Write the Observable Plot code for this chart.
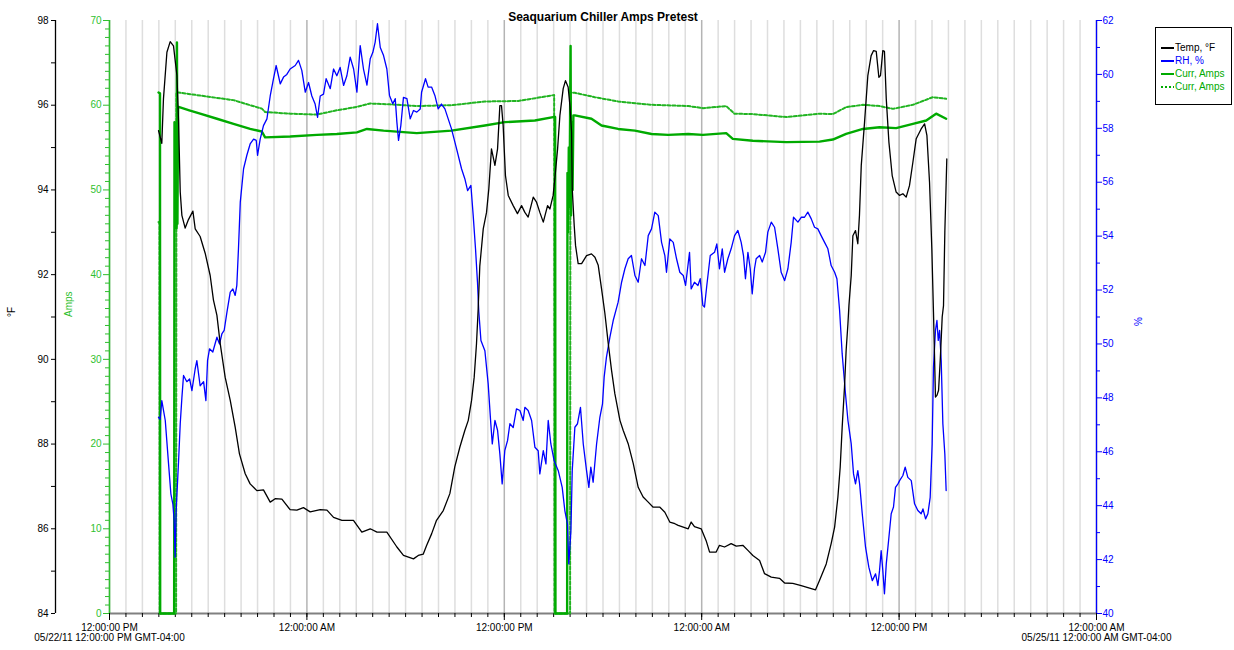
<!DOCTYPE html>
<html><head><meta charset="utf-8">
<script src="https://cdn.jsdelivr.net/npm/d3@7"></script>
<script src="https://cdn.jsdelivr.net/npm/@observablehq/plot@0.6"></script>
<style>
body{margin:0;background:#fff;font-family:"Liberation Sans",Arial,sans-serif}
#wrap{position:relative;width:1234px;height:650px;overflow:hidden}
#legend{position:absolute;left:1155px;top:27px;width:77px;height:78px;border:1px solid #000;background:#fff;font-size:10px;box-sizing:border-box}
#legend .row{position:absolute;left:5px;height:12px;line-height:12px;white-space:nowrap}
#legend svg{vertical-align:middle;margin-right:1px}
</style></head><body><div id="wrap"></div><script>
const title = "Seaquarium Chiller Amps Pretest";
const startLabel = "05/22/11 12:00:00 PM GMT-04:00";
const endLabel = "05/25/11 12:00:00 AM GMT-04:00";
const legendLabels = ["Temp, \u00b0F", "RH, %", "Curr, Amps", "Curr, Amps"];
const axisLabels = ["\u00b0F", "Amps", "%"];
// time = hours after 05/22/11 12:00 PM
const temp = [[2.98,95.4],[3.18,95.1],[3.28,96.15],[3.49,97.25],[3.69,97.5],[3.89,97.4],[4.10,96.7],[4.20,95.6],[4.30,93.95],[4.40,93.4],[4.60,93.1],[4.80,93.3],[5.07,93.5],[5.21,93.08],[5.51,92.9],[5.82,92.5],[6.12,91.98],[6.32,91.4],[6.53,91.04],[6.73,90.37],[7.03,89.58],[7.34,89.03],[7.64,88.4],[7.9,87.77],[8.25,87.3],[8.55,87.06],[8.96,86.9],[9.36,86.92],[9.77,86.63],[10.07,86.71],[10.48,86.7],[10.98,86.45],[11.39,86.44],[11.79,86.5],[12.2,86.4],[12.81,86.45],[13.22,86.44],[13.62,86.27],[14.13,86.2],[14.83,86.2],[15.34,85.92],[15.85,86.0],[16.26,85.92],[16.86,85.92],[17.47,85.57],[17.87,85.37],[18.48,85.29],[18.77,85.37],[19.07,85.4],[19.27,85.6],[19.58,85.88],[19.88,86.2],[20.29,86.43],[20.69,86.83],[20.99,87.46],[21.3,87.93],[21.6,88.32],[21.81,88.56],[22.01,89.03],[22.17,89.58],[22.31,90.37],[22.41,91.17],[22.51,92.2],[22.72,93.08],[22.92,93.47],[23.06,94.03],[23.22,94.97],[23.43,94.58],[23.59,94.97],[23.73,95.99],[23.83,95.99],[23.93,95.52],[24.07,94.34],[24.24,93.87],[24.54,93.63],[24.8,93.44],[25.05,93.63],[25.25,93.47],[25.45,93.36],[25.76,93.83],[25.96,93.71],[26.16,93.47],[26.37,93.24],[26.63,93.63],[26.77,93.55],[26.97,93.87],[27.07,94.26],[27.24,94.97],[27.38,95.76],[27.58,96.39],[27.72,96.58],[27.88,96.43],[27.99,95.99],[28.09,95.36],[28.13,94.03],[28.25,93.16],[28.33,92.69],[28.49,92.26],[28.7,92.26],[29.0,92.45],[29.3,92.49],[29.51,92.41],[29.71,92.22],[29.91,91.67],[30.11,91.1],[30.32,90.37],[30.52,89.74],[30.72,89.19],[31.03,88.56],[31.23,88.32],[31.53,88.01],[31.84,87.54],[32.14,86.98],[32.44,86.75],[32.75,86.63],[33.05,86.51],[33.46,86.51],[33.76,86.39],[34.06,86.16],[34.37,86.12],[34.57,86.08],[34.88,86.04],[35.18,86.0],[35.36,86.16],[35.56,86.05],[35.97,86.0],[36.27,85.72],[36.48,85.45],[36.88,85.45],[37.08,85.61],[37.39,85.57],[37.79,85.65],[38.1,85.59],[38.5,85.61],[38.81,85.49],[39.11,85.37],[39.52,85.25],[39.82,84.94],[40.23,84.86],[40.73,84.83],[41.04,84.72],[41.54,84.71],[42.05,84.66],[42.56,84.6],[42.92,84.56],[43.16,84.78],[43.57,85.17],[43.87,85.65],[44.08,86.04],[44.28,86.75],[44.42,87.46],[44.54,88.4],[44.68,89.34],[44.78,90.21],[44.89,90.84],[44.95,91.27],[45.09,91.98],[45.19,92.92],[45.35,93.04],[45.49,92.73],[45.59,93.4],[45.70,94.58],[45.9,95.6],[46.1,96.7],[46.3,97.17],[46.45,97.29],[46.61,97.27],[46.77,96.66],[46.87,96.7],[47.01,97.29],[47.11,97.27],[47.22,96.15],[47.38,95.13],[47.58,94.34],[47.82,93.95],[48.03,93.87],[48.23,93.91],[48.43,93.83],[48.63,94.1],[48.84,94.66],[49.04,95.21],[49.34,95.44],[49.55,95.56],[49.69,95.29],[49.85,94.18],[49.99,92.61],[50.09,91.11],[50.15,90.13],[50.21,89.11],[50.30,89.15],[50.40,89.27],[50.50,89.97],[50.62,91.0],[50.70,91.27],[50.78,93.0],[50.90,94.73]];
const rh = [[2.98,47.28],[3.08,47.2],[3.18,47.9],[3.39,47.16],[3.59,45.55],[3.73,44.44],[3.85,44.07],[3.93,43.45],[3.99,42.09],[4.05,43.8],[4.20,45.67],[4.30,47.04],[4.40,48.0],[4.50,48.83],[4.70,48.6],[4.87,48.7],[5.01,48.27],[5.21,49.08],[5.31,49.38],[5.51,48.45],[5.72,48.6],[5.86,47.9],[5.96,49.38],[6.08,49.82],[6.28,49.7],[6.53,50.25],[6.69,50.0],[6.83,50.37],[6.97,50.5],[7.14,51.18],[7.34,51.92],[7.5,52.04],[7.64,51.8],[7.74,52.17],[7.84,53.53],[7.95,55.26],[8.15,56.5],[8.35,57.0],[8.55,57.42],[8.76,57.6],[8.92,57.55],[9.0,57.0],[9.16,57.6],[9.36,58.1],[9.57,58.35],[9.77,59.2],[9.97,59.84],[10.13,60.33],[10.27,59.95],[10.38,59.65],[10.58,59.9],[10.78,60.0],[10.98,60.2],[11.29,60.33],[11.49,60.52],[11.69,60.15],[11.9,59.34],[12.1,59.7],[12.3,59.2],[12.5,58.9],[12.65,58.41],[12.81,59.2],[13.01,59.27],[13.17,59.84],[13.42,59.47],[13.62,60.2],[13.82,59.95],[14.02,60.26],[14.23,59.59],[14.43,59.95],[14.63,60.64],[14.84,60.2],[15.04,59.34],[15.24,61.07],[15.44,60.2],[15.65,59.6],[15.85,60.58],[16.01,60.82],[16.15,61.2],[16.29,61.88],[16.46,61.0],[16.66,60.7],[16.86,60.2],[17.02,59.22],[17.22,58.91],[17.37,59.1],[17.47,58.23],[17.57,57.55],[17.71,58.1],[17.87,59.15],[18.08,59.1],[18.28,58.35],[18.48,58.66],[18.68,58.6],[18.89,58.72],[18.97,59.34],[19.21,59.84],[19.37,59.53],[19.58,59.53],[19.78,59.22],[19.98,58.72],[20.18,58.9],[20.39,58.72],[20.59,58.35],[20.79,57.98],[21.1,57.24],[21.4,56.5],[21.6,56.13],[21.77,55.69],[21.97,55.88],[22.11,54.76],[22.25,53.53],[22.37,52.29],[22.45,51.2],[22.58,50.13],[22.82,49.75],[23.02,48.52],[23.18,47.04],[23.27,46.29],[23.43,47.16],[23.59,46.8],[23.73,45.92],[23.87,44.81],[24.03,46.04],[24.2,46.42],[24.34,47.04],[24.54,46.9],[24.74,47.59],[24.95,47.53],[25.15,47.16],[25.25,47.65],[25.45,47.53],[25.66,47.16],[25.86,46.17],[26.06,46.04],[26.16,45.18],[26.37,46.04],[26.53,45.55],[26.67,47.16],[26.83,46.29],[27.03,45.67],[27.28,45.3],[27.52,44.68],[27.68,43.82],[27.84,43.32],[27.92,41.84],[28.05,43.07],[28.13,45.3],[28.29,46.91],[28.45,47.04],[28.63,47.65],[28.8,46.29],[29.0,45.3],[29.14,44.68],[29.26,45.43],[29.4,44.87],[29.61,46.29],[29.81,47.28],[29.97,47.78],[30.07,48.77],[30.21,49.51],[30.42,50.25],[30.62,50.87],[30.92,51.55],[31.13,52.29],[31.33,52.79],[31.53,53.16],[31.73,53.28],[31.94,52.54],[32.14,52.29],[32.34,53.16],[32.55,52.91],[32.75,54.02],[32.95,54.27],[33.15,54.89],[33.36,54.76],[33.56,53.77],[33.76,53.28],[33.86,52.66],[34.06,53.9],[34.27,53.77],[34.47,53.16],[34.67,52.66],[34.88,52.54],[35.02,52.17],[35.26,53.4],[35.36,52.04],[35.56,52.29],[35.77,52.17],[35.91,52.42],[36.07,51.43],[36.17,51.37],[36.31,52.17],[36.52,53.28],[36.78,53.4],[36.92,53.71],[37.08,52.79],[37.25,53.53],[37.39,52.66],[37.59,53.16],[37.79,53.53],[38.0,54.02],[38.2,54.21],[38.40,53.77],[38.54,53.28],[38.66,52.42],[38.81,53.4],[38.95,52.79],[39.07,51.86],[39.21,52.79],[39.31,53.16],[39.52,53.28],[39.68,53.04],[39.88,53.4],[40.02,54.15],[40.23,54.52],[40.43,54.33],[40.63,53.53],[40.83,52.66],[41.04,52.35],[41.24,52.79],[41.44,53.77],[41.58,54.7],[41.85,54.52],[42.05,54.7],[42.25,54.7],[42.45,54.89],[42.66,54.64],[42.86,54.33],[43.06,54.27],[43.26,54.02],[43.47,53.77],[43.67,53.53],[43.87,52.91],[44.08,52.66],[44.22,52.42],[44.38,51.27],[44.54,49.63],[44.74,48.15],[44.89,47.16],[45.09,46.29],[45.23,45.18],[45.35,44.81],[45.49,45.3],[45.6,44.81],[45.76,43.7],[45.96,42.46],[46.16,41.72],[46.37,41.22],[46.57,41.47],[46.71,41.04],[46.81,41.59],[46.91,42.33],[47.01,41.59],[47.11,40.73],[47.22,41.84],[47.36,42.7],[47.52,43.7],[47.66,43.95],[47.78,44.68],[47.93,44.81],[48.03,44.93],[48.23,45.12],[48.37,45.43],[48.53,45.05],[48.74,44.93],[48.94,44.07],[49.14,43.82],[49.34,43.7],[49.45,43.88],[49.61,43.51],[49.75,43.7],[49.89,44.31],[50.01,46.29],[50.09,49.13],[50.21,50.5],[50.3,50.87],[50.38,50.13],[50.46,50.5],[50.56,49.38],[50.66,47.04],[50.78,45.92],[50.86,44.56]];
const currA = [[2.98,61.5],[3.07,61.4],[3.08,0],[3.93,0],[3.95,58],[3.98,46],[4.02,51],[4.08,45.5],[4.1,67.4],[4.13,46],[4.17,59.8],[4.2,59.8],[4.85,59.4],[5.51,59.0],[6.53,58.4],[7.54,57.8],[8.55,57.2],[9.26,56.9],[9.46,56.2],[10.98,56.3],[12.61,56.5],[13.82,56.6],[15.04,56.8],[15.65,57.2],[16.66,57.0],[18.68,56.7],[20.79,57.0],[22.82,57.6],[24.03,58.0],[25.86,58.2],[26.97,58.6],[27.09,58.6],[27.11,0],[27.82,0],[27.84,52],[27.88,45],[27.92,55],[27.96,48],[28.03,67],[28.06,47],[28.1,58],[28.15,50],[28.2,58.8],[28.29,58.8],[29.3,58.4],[29.91,57.6],[30.92,57.2],[31.94,57.0],[32.95,56.6],[33.96,56.5],[35.18,56.6],[36.07,56.5],[37.49,56.7],[37.89,56.03],[39.11,55.8],[41.14,55.64],[43.16,55.7],[43.97,55.95],[44.78,56.62],[45.8,57.2],[46.81,57.4],[47.82,57.3],[48.84,57.8],[49.65,58.2],[50.25,59.0],[50.86,58.4]];
const currB = [[2.98,46.2],[3.04,46.0],[3.05,0],[4.05,0],[4.07,61.5],[4.2,61.5],[6.02,61.0],[7.54,60.6],[8.55,60.0],[9.26,59.6],[9.46,59.2],[10.98,59.0],[12.61,58.9],[13.82,59.4],[15.04,59.8],[15.85,60.2],[17.06,60.1],[18.68,59.9],[20.79,60.0],[22.82,60.44],[24.85,60.5],[26.87,61.15],[27.03,61.2],[27.05,0],[28.0,0],[28.02,61.5],[28.29,61.46],[29.5,60.95],[30.92,60.44],[32.95,60.05],[35.18,59.9],[36.07,59.65],[37.49,59.9],[37.99,59.0],[39.11,58.95],[41.14,58.6],[43.16,59.0],[43.97,58.95],[44.78,59.77],[45.8,60.05],[46.81,59.9],[47.62,59.57],[48.84,60.05],[50.05,60.95],[50.86,60.76]];
const tempTicks = d3.range(84, 99);
const ampTicks = d3.range(0, 71);
const rhTicks = d3.range(40, 63);

const BLUE = "#0000ff", GREEN = "#00aa00", GREENAX = "#2fbf2f";
const start = Date.UTC(2011, 4, 22, 12);
const t = h => new Date(start + h * 3600e3);
const xStart = t(0), xEnd = t(60);
const fromRH = r => 84 + (r - 40) * 14 / 22;
const fromAmps = a => 84 + a * 0.2;
const hours = d3.range(0, 61).map(t);
const majors = hours.filter((d, i) => i % 12 === 0);
const minorHours = hours.filter((d, i) => i % 12 !== 0);
const font = "Liberation Sans, Arial, sans-serif";

const chart = Plot.plot({
  width: 1234, height: 650,
  marginTop: 20, marginBottom: 37, marginLeft: 109, marginRight: 138,
  style: {fontFamily: font, fontSize: "10px", background: "#fff"},
  x: {type: "utc", domain: [xStart, xEnd], axis: null},
  y: {domain: [84, 98], axis: null},
  marks: [
    Plot.ruleX(minorHours, {stroke: "#dedede", strokeWidth: 1.5}),
    Plot.ruleX(majors, {stroke: "#b4b4b4", strokeWidth: 1.5}),
    Plot.ruleY([84], {stroke: "#808080", strokeWidth: 2}),
    // x axis
    Plot.axisX(hours, {tickSize: 4, tickFormat: () => "", stroke: "#000"}),
    Plot.axisX(majors, {tickSize: 7, tickPadding: 3, fontSize: 10, fill: "#000",
      tickFormat: d => d.getUTCHours() === 12 ? "12:00:00 PM" : "12:00:00 AM"}),
    Plot.text([[xStart, startLabel], [xEnd, endLabel]], {x: d => d[0], text: d => d[1], frameAnchor: "bottom", dy: 27, fontSize: 10, fill: "#000"}),
    // left temperature axis
    Plot.ruleX([xStart], {dx: -54, stroke: "#000", strokeWidth: 1.3}),
    Plot.axisY(tempTicks, {anchor: "left", dx: -54, tickSize: 4, tickPadding: 3, fontSize: 10, stroke: "#000", fill: "#000",
      tickFormat: d => d % 2 === 0 ? String(d) : ""}),
    // amps axis
    Plot.ruleX([xStart], {stroke: GREENAX, strokeWidth: 1.5}),
    Plot.axisY(ampTicks.filter(a => a % 10 !== 0).map(fromAmps), {anchor: "left", tickSize: 4, stroke: GREENAX, tickFormat: () => ""}),
    Plot.axisY(ampTicks.filter(a => a % 10 === 0).map(fromAmps), {anchor: "left", tickSize: 6, tickPadding: 2, fontSize: 10, stroke: GREENAX, fill: GREENAX,
      tickFormat: d => String(Math.round((d - 84) * 5))}),
    // RH axis
    Plot.ruleX([xEnd], {stroke: BLUE, strokeWidth: 1.3}),
    Plot.axisY(rhTicks.filter(r => r % 2 !== 0).map(fromRH), {anchor: "right", tickSize: 3, stroke: BLUE, tickFormat: () => ""}),
    Plot.axisY(rhTicks.filter(r => r % 2 === 0).map(fromRH), {anchor: "right", tickSize: 5, tickPadding: 1, fontSize: 10, stroke: BLUE, fill: BLUE,
      tickFormat: d => String(Math.round(40 + (d - 84) * 22 / 14))}),
    // axis labels
    Plot.text([axisLabels[0]], {frameAnchor: "left", dx: -98, rotate: -90, fontSize: 10, fill: "#000"}),
    Plot.text([axisLabels[1]], {frameAnchor: "left", dx: -41, rotate: -90, fontSize: 10, fill: GREENAX}),
    Plot.text([axisLabels[2]], {frameAnchor: "right", dx: 42, rotate: -90, fontSize: 10, fill: BLUE}),
    // title
    Plot.text([title], {frameAnchor: "top", dy: -8, fontSize: 12, fontWeight: "bold", fill: "#000"}),
    // data
    Plot.line(currB, {x: d => t(d[0]), y: d => fromAmps(d[1]), stroke: "#22b422", strokeWidth: 2, strokeDasharray: "3,2"}),
    Plot.line(currA, {x: d => t(d[0]), y: d => fromAmps(d[1]), stroke: GREEN, strokeWidth: 2.4}),
    Plot.line(rh, {x: d => t(d[0]), y: d => fromRH(d[1]), stroke: BLUE, strokeWidth: 1.3}),
    Plot.line(temp, {x: d => t(d[0]), y: d => d[1], stroke: "#000", strokeWidth: 1.3})
  ]
});
const wrap = document.getElementById("wrap");
wrap.appendChild(chart);

const legend = document.createElement("div");
legend.id = "legend";
const legendStyles = [["#000", null], [BLUE, null], [GREEN, null], [GREEN, "2,2"]];
const textColors = ["#000", BLUE, GREEN, GREEN];
legendLabels.forEach((lab, i) => {
  const row = document.createElement("div");
  row.className = "row";
  row.style.top = (14 + i * 13) + "px";
  row.style.color = textColors[i];
  const [c, dash] = legendStyles[i];
  row.innerHTML = `<svg width="13" height="6"><line x1="0" x2="13" y1="3" y2="3" stroke="${c}" stroke-width="2" ${dash ? `stroke-dasharray="${dash}"` : ""}/></svg>`;
  row.appendChild(document.createTextNode(lab));
  legend.appendChild(row);
});
wrap.appendChild(legend);
</script></body></html>
